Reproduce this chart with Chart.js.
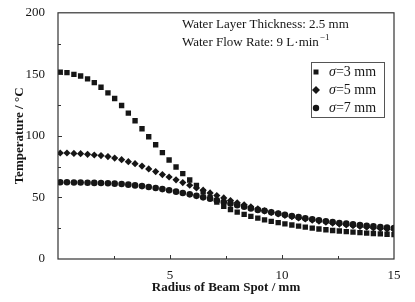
<!DOCTYPE html>
<html>
<head>
<meta charset="utf-8">
<script src="https://cdn.jsdelivr.net/npm/chart.js@4/dist/chart.umd.min.js"></script>
<style>
  html, body { margin: 0; padding: 0; background: #fff; }
  #wrap { width: 415px; height: 302px; }
</style>
</head>
<body>
<div id="wrap"><canvas id="tempChart" width="415" height="302"></canvas></div>
<script>
// radius of beam spot (mm)
var radius = [0.10, 0.40, 0.71, 1.01, 1.32, 1.62, 1.92, 2.23, 2.53, 2.84,
  3.14, 3.44, 3.75, 4.05, 4.36, 4.66, 4.96, 5.27, 5.57, 5.88,
  6.18, 6.48, 6.79, 7.09, 7.40, 7.70, 8.00, 8.31, 8.61, 8.92,
  9.22, 9.52, 9.83, 10.13, 10.44, 10.74, 11.04, 11.35, 11.65, 11.96,
  12.26, 12.56, 12.87, 13.17, 13.48, 13.78, 14.08, 14.39, 14.69, 15.00];

// temperature (°C) for each beam spot size
var sigma3 = [151.7, 151.4, 150.0, 148.7, 146.3, 143.3, 139.5, 135.0, 130.4, 124.7,
  118.5, 112.3, 105.8, 99.3, 92.8, 86.4, 80.4, 74.7, 69.4, 64.2,
  59.7, 54.5, 50.0, 46.2, 42.9, 40.2, 38.1, 36.2, 34.6, 33.2,
  31.8, 30.6, 29.5, 28.5, 27.6, 26.7, 25.9, 25.1, 24.4, 23.8,
  23.2, 22.7, 22.2, 21.8, 21.4, 21.0, 20.7, 20.4, 20.1, 19.8];
var sigma5 = [86.1, 86.1, 85.8, 85.6, 85.0, 84.5, 84.0, 83.2, 82.0, 80.7,
  79.1, 77.4, 75.5, 73.2, 71.0, 68.6, 66.6, 64.3, 62.1, 59.9,
  57.7, 55.9, 53.7, 51.6, 49.6, 47.5, 45.6, 44.0, 42.3, 40.7,
  39.1, 37.8, 36.6, 35.5, 34.4, 33.4, 32.5, 31.6, 30.8, 30.0,
  29.1, 28.4, 27.7, 27.0, 26.4, 25.8, 25.2, 24.7, 24.2, 23.7];
var sigma7 = [62.3, 62.3, 62.1, 62.1, 62.0, 61.8, 61.7, 61.5, 61.2, 60.9,
  60.4, 59.8, 59.2, 58.5, 57.7, 56.8, 55.8, 54.7, 53.6, 52.5,
  51.3, 50.1, 48.9, 47.6, 46.3, 45.0, 43.7, 42.4, 41.1, 39.9,
  39.1, 38.0, 36.9, 35.9, 34.9, 34.0, 33.1, 32.3, 31.5, 30.7,
  30.0, 29.3, 28.7, 28.1, 27.5, 27.0, 26.5, 26.0, 25.6, 25.2];

var seriesLabels = ['σ=3 mm', 'σ=5 mm', 'σ=7 mm'];
var yTicks = [0, 50, 100, 150, 200];
var xTicks = [5, 10, 15];
var notes = ['Water Layer Thickness: 2.5 mm', 'Water Flow Rate: 9 L·min'];

var serif = '"Liberation Serif", "Times New Roman", serif';
var ink = '#161616';

function pts(ys) {
  return ys.map(function (y, i) { return { x: radius[i], y: y }; });
}

// frame, inward ticks, notes and legend
var decor = {
  id: 'decor',
  afterDraw: function (chart) {
    var c = chart.ctx, a = chart.chartArea;
    var xs = chart.scales.x, ys = chart.scales.y;
    c.save();
    c.strokeStyle = '#333';
    c.lineWidth = 1.2;
    c.strokeRect(a.left, a.top, a.right - a.left, a.bottom - a.top);

    c.lineWidth = 1;
    for (var v = 25; v < 200; v += 25) {
      var py = Math.round(ys.getPixelForValue(v)) + 0.5;
      var len = v % 50 === 0 ? 4 : 3;
      c.beginPath(); c.moveTo(a.left, py); c.lineTo(a.left + len, py); c.stroke();
    }
    for (var u = 2.5; u < 15; u += 2.5) {
      var px = Math.round(xs.getPixelForValue(u)) + 0.5;
      var l2 = u % 5 === 0 ? 4 : 3;
      c.beginPath(); c.moveTo(px, a.bottom); c.lineTo(px, a.bottom - l2); c.stroke();
    }

    // notes
    c.fillStyle = ink;
    c.font = '13px ' + serif;
    c.textBaseline = 'middle';
    c.textAlign = 'left';
    c.fillText(notes[0], 182, 25);
    c.fillText(notes[1], 182, 43);
    var w = c.measureText(notes[1]).width;
    c.font = '9px ' + serif;
    c.fillText('−1', 182 + w + 1, 38);

    // legend
    c.strokeStyle = '#555';
    c.lineWidth = 1;
    c.strokeRect(311.5, 62.5, 73, 55);
    var ly = [72, 90, 108];
    chart.data.datasets.forEach(function (ds, i) {
      c.fillStyle = ink;
      c.beginPath();
      if (i === 0) {
        c.rect(313.5, ly[i] - 2.5, 5, 5);
      } else if (i === 1) {
        c.moveTo(316, ly[i] - 4); c.lineTo(320, ly[i]); c.lineTo(316, ly[i] + 4); c.lineTo(312, ly[i]);
        c.closePath();
      } else {
        c.arc(316, ly[i], 3.2, 0, Math.PI * 2);
      }
      c.fill();
      c.font = 'italic 14px ' + serif;
      c.fillText('σ', 329, ly[i]);
      var sw = c.measureText('σ').width;
      c.font = '14px ' + serif;
      c.fillText(ds.label.slice(1), 329 + sw, ly[i]);
    });
    c.restore();
  }
};

var ctx = document.getElementById('tempChart').getContext('2d');
var chart = new Chart(ctx, {
  type: 'scatter',
  data: {
    datasets: [{
      label: seriesLabels[0],
      data: pts(sigma3),
      pointStyle: 'rect',
      pointRadius: 3.8,
      backgroundColor: ink,
      borderWidth: 0
    }, {
      label: seriesLabels[1],
      data: pts(sigma5),
      pointStyle: 'rectRot',
      pointRadius: 3.6,
      backgroundColor: ink,
      borderWidth: 0
    }, {
      label: seriesLabels[2],
      data: pts(sigma7),
      pointStyle: 'circle',
      pointRadius: 3.3,
      backgroundColor: ink,
      borderWidth: 0
    }]
  },
  options: {
    responsive: false,
    animation: false,
    events: [],
    layout: { padding: { top: 12, right: 21, left: 0, bottom: 0 } },
    plugins: {
      legend: { display: false },
      tooltip: { enabled: false }
    },
    scales: {
      x: {
        type: 'linear',
        min: 0,
        max: 15,
        afterFit: function (s) { s.height = 43; },
        afterBuildTicks: function (s) { s.ticks = xTicks.map(function (v) { return { value: v }; }); },
        grid: { display: false },
        border: { display: false },
        ticks: { color: ink, padding: 1, font: { family: serif, size: 13 } },
        title: {
          display: true,
          text: 'Radius of Beam Spot / mm',
          color: ink,
          padding: { top: 0, bottom: 7 },
          font: { family: serif, size: 13, weight: 'bold' }
        }
      },
      y: {
        type: 'linear',
        min: 0,
        max: 200,
        afterFit: function (s) { s.width = 58; },
        afterBuildTicks: function (s) { s.ticks = yTicks.map(function (v) { return { value: v }; }); },
        grid: { display: false },
        border: { display: false },
        ticks: { color: ink, padding: 5, font: { family: serif, size: 13 } },
        title: {
          display: true,
          text: 'Temperature / °C',
          color: ink,
          padding: { top: 12, bottom: 0 },
          font: { family: serif, size: 13, weight: 'bold' }
        }
      }
    }
  },
  plugins: [decor]
});
</script>
</body>
</html>
